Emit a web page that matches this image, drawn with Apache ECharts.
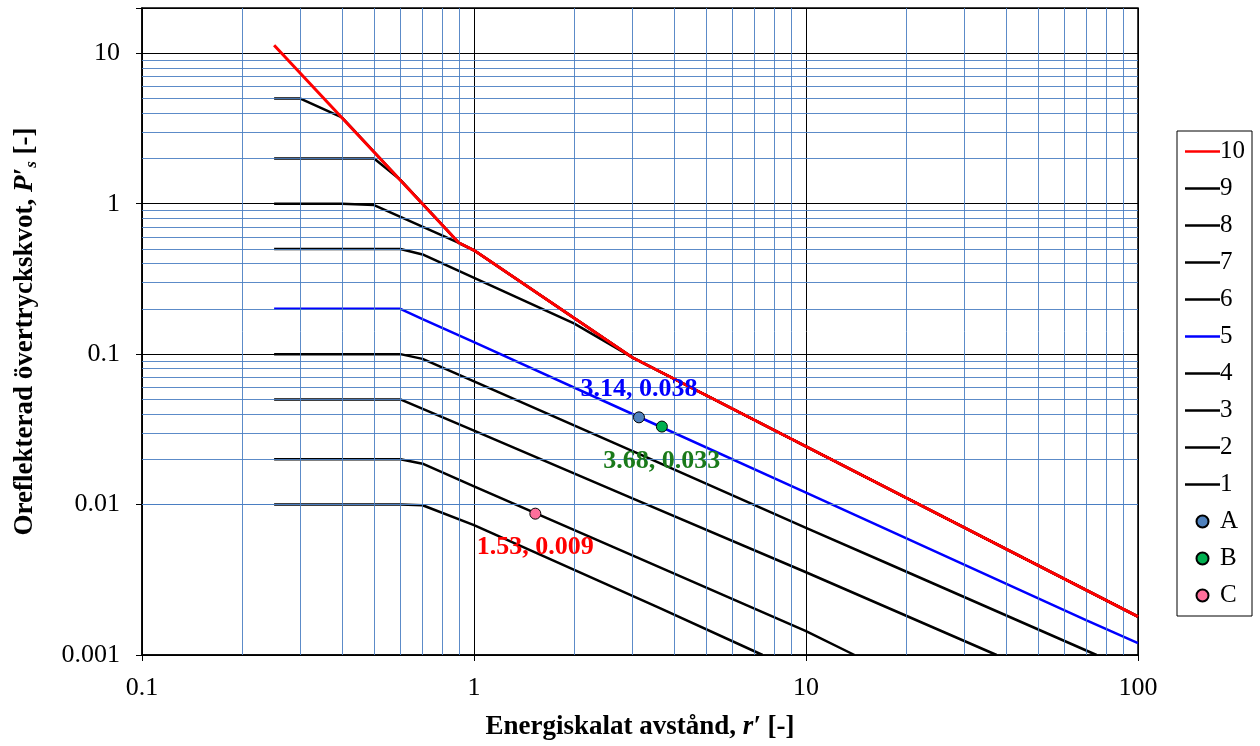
<!DOCTYPE html>
<html><head><meta charset="utf-8">
<script src="https://cdn.jsdelivr.net/npm/echarts@6/dist/echarts.min.js"></script>
<style>html,body{margin:0;padding:0;background:#fff}#c{width:1260px;height:746px}</style>
</head><body><div id="c"></div>
<script>
// ---- data ----
const xTickLabels = ['0.1', '1', '10', '100'];
const yTickLabels = ['0.001', '0.01', '0.1', '1', '10'];
const xMinorGrid = [0.2,0.3,0.4,0.5,0.6,0.7,0.8,0.9, 2,3,4,5,6,7,8,9, 20,30,40,50,60,70,80,90];
const yMinorGrid = [0.002,0.003,0.004,0.005,0.006,0.007,0.008,0.009,
                    0.02,0.03,0.04,0.05,0.06,0.07,0.08,0.09,
                    0.2,0.3,0.4,0.5,0.6,0.7,0.8,0.9,
                    2,3,4,5,6,7,8,9];
const seriesNames = ['10','9','8','7','6','5','4','3','2','1'];
const curve10 = [[0.25,11.3],[0.9,0.55],[1,0.49],[3,0.095],[100,0.0018]];
const curve9  = [[0.25,5],[0.3,5],[0.4,3.75],[0.9,0.55],[1,0.49],[3,0.095],[100,0.0018]];
const curve8  = [[0.25,2],[0.5,2],[0.6,1.44],[0.9,0.55],[1,0.49],[3,0.095],[100,0.0018]];
const curve7  = [[0.25,1],[0.4,1],[0.5,0.98],[0.9,0.55],[1,0.49],[3,0.095],[100,0.0018]];
const curve6  = [[0.25,0.5],[0.6,0.5],[0.7,0.46],[2,0.16],[3,0.095],[100,0.0018]];
const curve5  = [[0.25,0.2],[0.6,0.2],[0.7,0.171],[1,0.12],[3,0.04],[10,0.012],[70,0.0017],[100,0.0012]];
const curve4  = [[0.25,0.1],[0.6,0.1],[0.7,0.093],[1,0.066],[3.2,0.0213],[10,0.007],[17,0.0042],[75,0.001]];
const curve3  = [[0.25,0.05],[0.6,0.05],[1,0.031],[3,0.011],[10,0.00355],[37.5,0.001]];
const curve2  = [[0.25,0.02],[0.6,0.02],[0.7,0.0187],[1,0.0132],[3,0.0046],[10,0.00144],[14,0.001]];
const curve1  = [[0.25,0.01],[0.6,0.01],[0.7,0.0099],[1,0.0073],[3.63,0.00205],[7.4,0.001]];
const pointA = [3.14, 0.038];
const pointB = [3.68, 0.033];
const pointC = [1.53, 0.0087];

// ---- chart ----
const FONT = "'Liberation Serif','Times New Roman',serif";
const curves = [curve10, curve9, curve8, curve7, curve6, curve5, curve4, curve3, curve2, curve1];
const colors = ['#ff0000','#000','#000','#000','#000','#0000ff','#000','#000','#000','#000'];
const LINE_ICON = 'path://M0,0H35V2.5H0Z';

function isPow10(v){ const l = Math.log10(v); return Math.abs(l - Math.round(l)) < 1e-6; }
function fmtX(v){ if(!isPow10(v)) return ''; const i = Math.round(Math.log10(v)) + 1; return xTickLabels[i] || ''; }
function fmtY(v){ if(!isPow10(v)) return ''; const i = Math.round(Math.log10(v)) + 3; return yTickLabels[i] || ''; }

const lineSeries = curves.map((d, i) => ({
  name: seriesNames[i], type: 'line', data: d, symbol: 'none', showSymbol: false,
  lineStyle: { color: colors[i], width: i === 0 ? 3 : 2.5 },
  itemStyle: { color: colors[i] },
  z: i === 0 ? 5 : (i === 5 ? 4 : 3)
})).reverse();

function ptLabel(color, pos, dist){
  return { show: true, position: pos, distance: dist, color: color, fontFamily: FONT, fontWeight: 'bold', fontSize: 26,
    formatter: p => p.value[0].toFixed(2) + ', ' + p.value[1].toFixed(3) };
}
const pts = [
  { name: 'A', data: [pointA], fill: '#4f81bd', lab: ptLabel('#0000ff', 'top', 9) },
  { name: 'B', data: [pointB], fill: '#00b050', lab: ptLabel('#1a7a1a', 'bottom', 16) },
  { name: 'C', data: [pointC], fill: '#ff6f9b', lab: ptLabel('#ff0000', 'bottom', 15) }
].map(p => ({
  name: p.name, type: 'scatter', data: p.data, symbol: 'circle', symbolSize: 11, z: 6,
  itemStyle: { color: p.fill, borderColor: '#000', borderWidth: 1, opacity: 1 },
  label: p.lab
}));

const gridSeries = {
  name: 'minorGrid', type: 'line', data: [], z: 1, silent: true,
  markLine: {
    silent: true, symbol: ['none','none'], label: { show: false }, animation: false,
    lineStyle: { color: '#4a7ec2', width: 1, type: 'solid', opacity: 0.9 },
    emphasis: { disabled: true },
    data: xMinorGrid.map(v => ({ xAxis: v })).concat(yMinorGrid.map(v => ({ yAxis: v })))
  }
};

const legendData = seriesNames.map(n => ({ name: n, icon: LINE_ICON }))
  .concat(['A','B','C'].map(n => ({ name: n, icon: 'circle' })));

const chart = echarts.init(document.getElementById('c'), null, { renderer: 'canvas' });
chart.setOption({
  animation: false,
  backgroundColor: '#fff',
  textStyle: { fontFamily: FONT },
  grid: { left: 142, right: 122, top: 8, bottom: 89, show: true, borderColor: '#000', borderWidth: 1.5, backgroundColor: 'transparent' },
  legend: {
    orient: 'vertical', left: 1177, top: 131,
    data: legendData,
    itemWidth: 35, itemHeight: 12, itemGap: 12,
    borderColor: '#000', borderWidth: 1, padding: [8, 7, 8, 8],
    backgroundColor: '#fff',
    textStyle: { fontFamily: FONT, fontSize: 25, color: '#000', padding: [0,0,0,-5] },
    selectedMode: false
  },
  xAxis: {
    type: 'log', logBase: 10, min: 0.1, max: 100,
    axisLine: { show: true, lineStyle: { color: '#000', width: 1.5 } },
    axisTick: { show: true, inside: false, length: 6, lineStyle: { color: '#000' } },
    axisLabel: { formatter: fmtX, fontFamily: FONT, fontSize: 26, color: '#000', margin: 20 },
    splitLine: { show: true, lineStyle: { color: '#000', width: 1 } },
    name: '{b|Energiskalat avstånd, }{i|r′}{b| [-]}', nameLocation: 'middle', nameGap: 59,
    nameTextStyle: { rich: {
      b: { fontFamily: FONT, fontSize: 27, fontWeight: 'bold', color: '#000' },
      i: { fontFamily: FONT, fontSize: 27, fontWeight: 'bold', fontStyle: 'italic', color: '#000' }
    } }
  },
  yAxis: {
    type: 'log', logBase: 10, min: 0.001, max: 20,
    axisLine: { show: true, lineStyle: { color: '#000', width: 1.5 } },
    axisTick: { show: true, inside: false, length: 6, lineStyle: { color: '#000' } },
    axisLabel: { formatter: fmtY, fontFamily: FONT, fontSize: 26, color: '#000', margin: 22 },
    splitLine: { show: true, lineStyle: { color: '#000', width: 1 } },
    name: '{b|Oreflekterad övertryckskvot, }{i|P′}{s|s}{b| [-]}', nameLocation: 'middle', nameGap: 102,
    nameRotate: 90,
    nameTextStyle: { rich: {
      b: { fontFamily: FONT, fontSize: 27, fontWeight: 'bold', color: '#000', lineHeight: 30 },
      i: { fontFamily: FONT, fontSize: 27, fontWeight: 'bold', fontStyle: 'italic', color: '#000', lineHeight: 30 },
      s: { fontFamily: FONT, fontSize: 17, fontWeight: 'bold', fontStyle: 'italic', color: '#000', verticalAlign: 'bottom', lineHeight: 30, padding: [9,0,0,0] }
    } }
  },
  series: [gridSeries].concat(lineSeries, pts)
});
</script>
</body></html>
